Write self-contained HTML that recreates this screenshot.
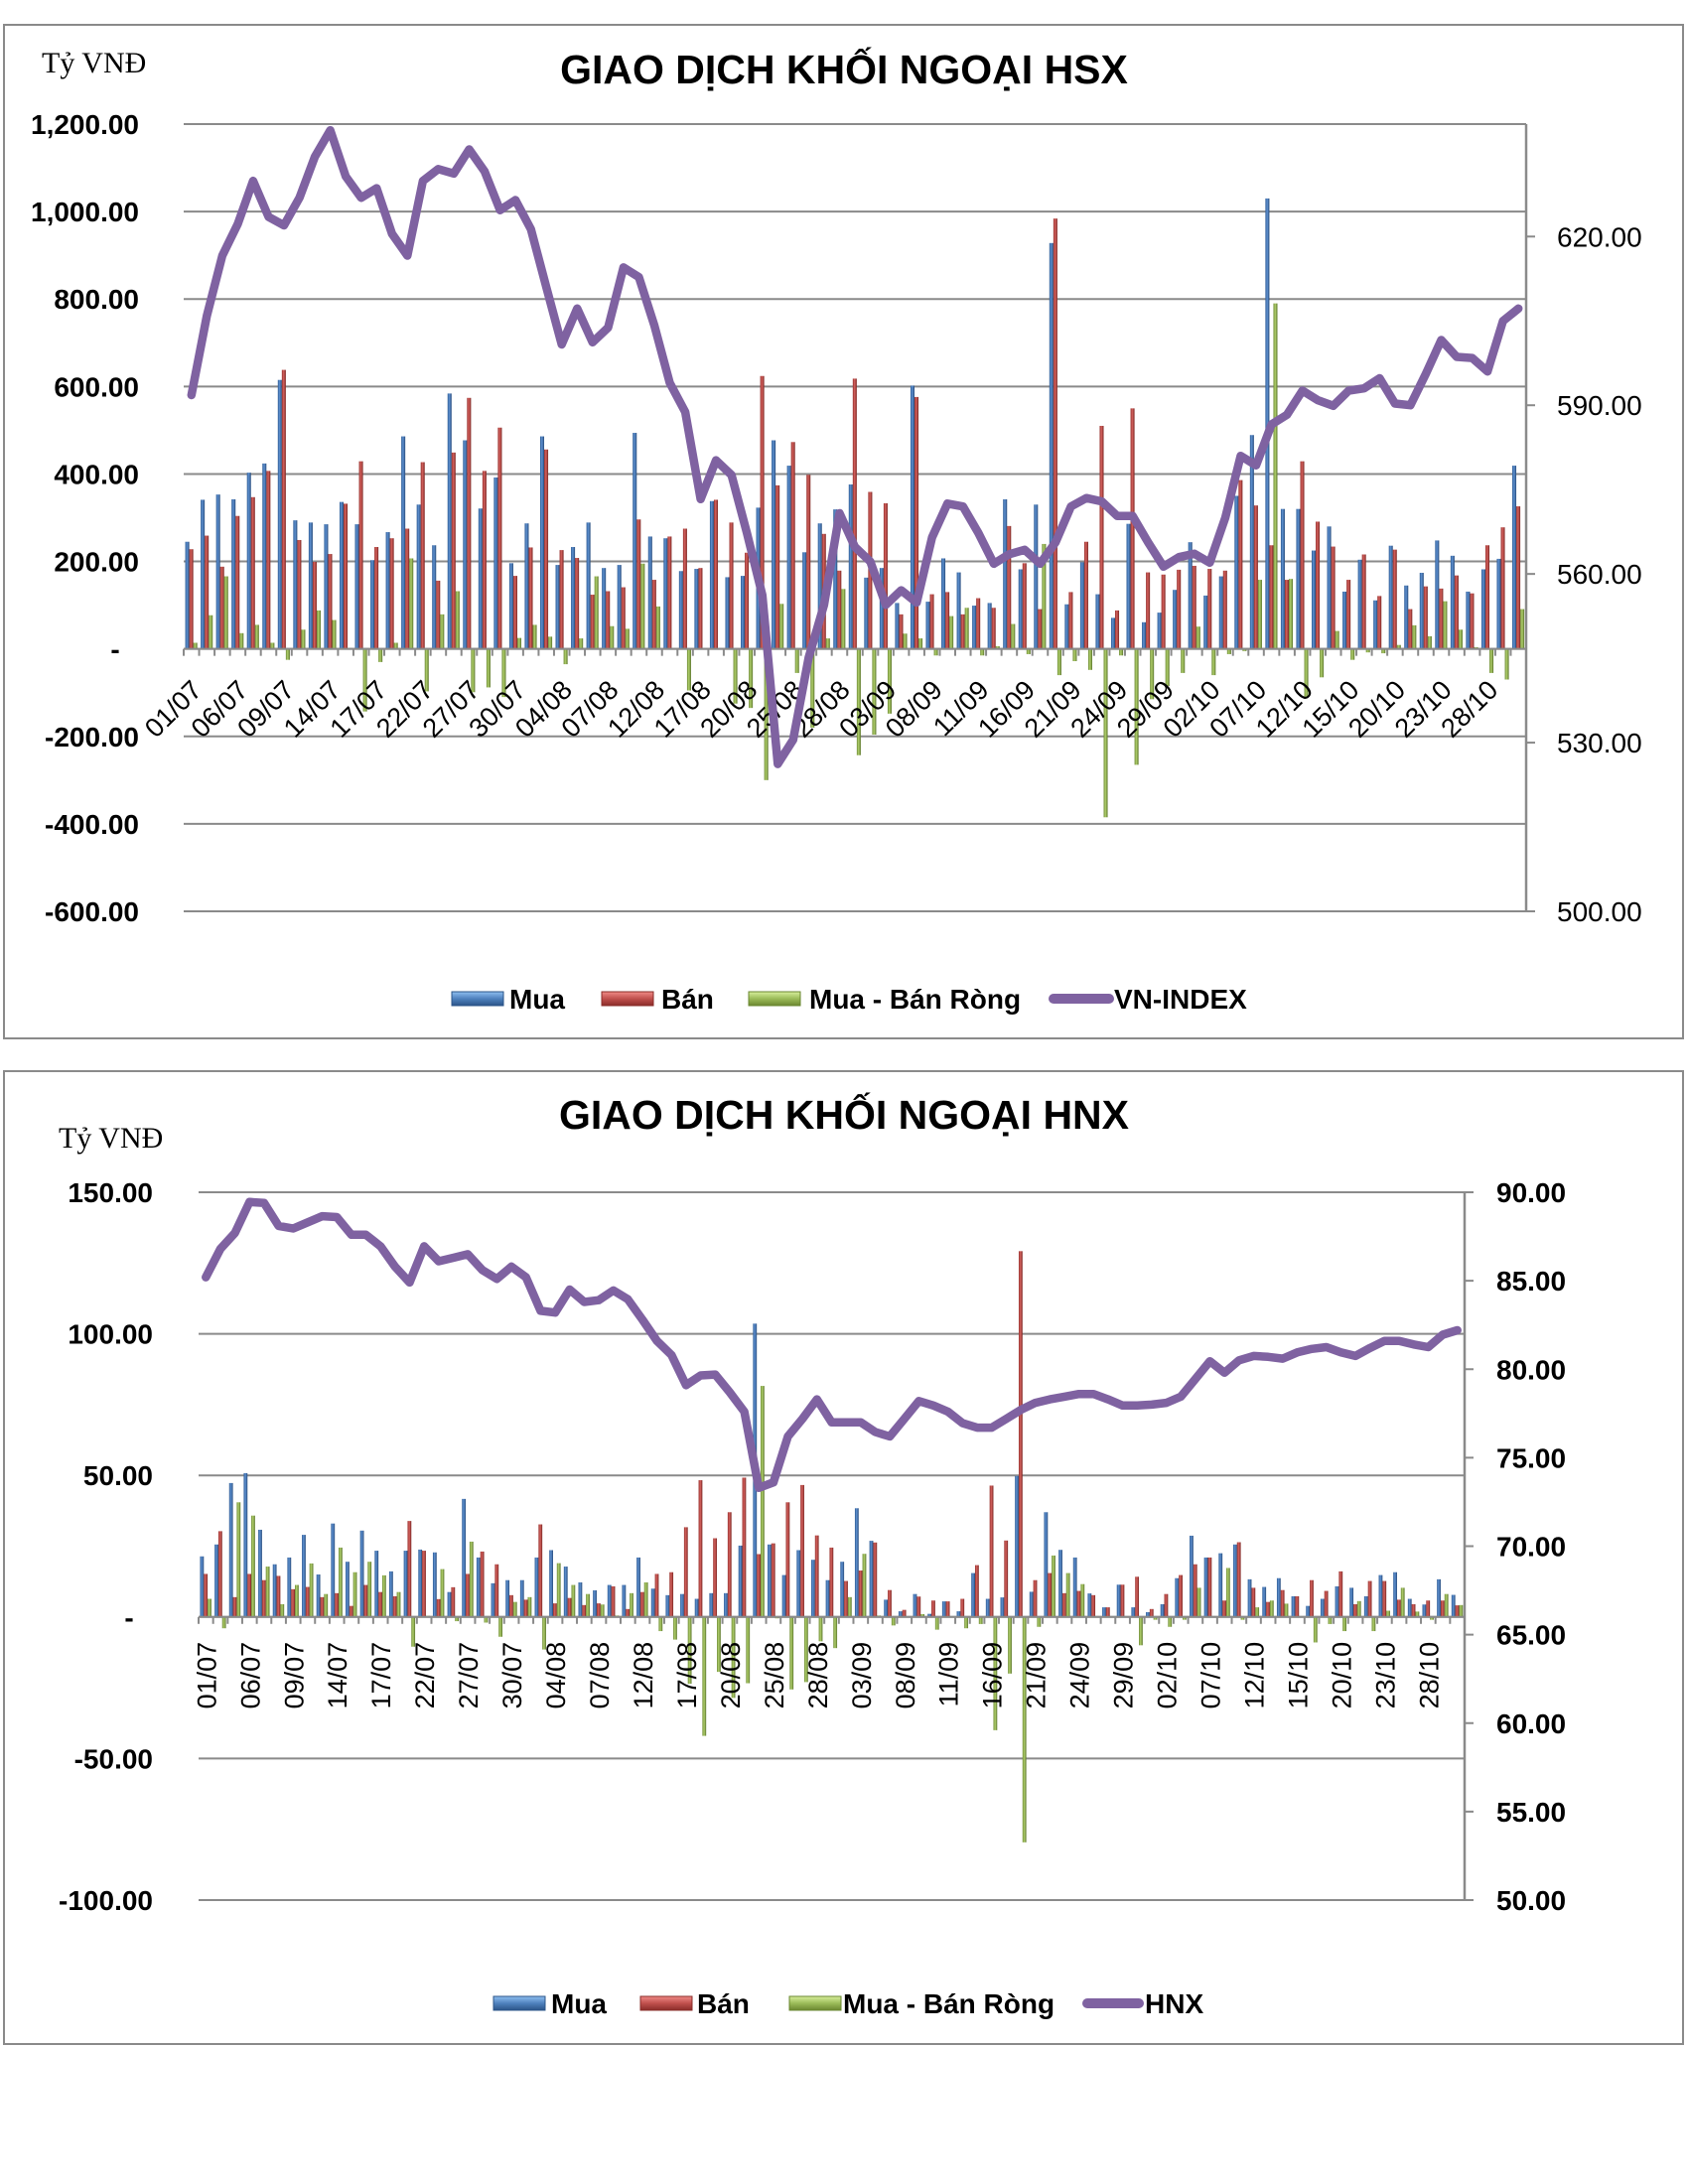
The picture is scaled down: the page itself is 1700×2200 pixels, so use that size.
<!DOCTYPE html>
<html><head><meta charset="utf-8"><title>Giao dịch khối ngoại</title>
<style>
html,body{margin:0;padding:0;background:#fff;}
svg{display:block;}
text{font-family:"Liberation Sans",Arial,sans-serif;fill:#000;}
.serif{font-family:"Liberation Serif","Times New Roman",serif;}
</style></head>
<body>
<svg id="root" width="1700" height="2200" viewBox="0 0 1700 2200" xmlns="http://www.w3.org/2000/svg">
<defs>
<linearGradient id="gBlue" x1="0" x2="1" y1="0" y2="0"><stop offset="0" stop-color="#2c5a93"/><stop offset="0.45" stop-color="#5f91d0"/><stop offset="1" stop-color="#24497a"/></linearGradient>
<linearGradient id="gRed" x1="0" x2="1" y1="0" y2="0"><stop offset="0" stop-color="#94302d"/><stop offset="0.45" stop-color="#d4625e"/><stop offset="1" stop-color="#7a2421"/></linearGradient>
<linearGradient id="gGreen" x1="0" x2="1" y1="0" y2="0"><stop offset="0" stop-color="#6c8934"/><stop offset="0.45" stop-color="#b0cf6c"/><stop offset="1" stop-color="#587328"/></linearGradient>
<linearGradient id="lBlue" x1="0" x2="0" y1="0" y2="1"><stop offset="0" stop-color="#8fc0f0"/><stop offset="0.5" stop-color="#4f81bd"/><stop offset="1" stop-color="#2b5488"/></linearGradient>
<linearGradient id="lRed" x1="0" x2="0" y1="0" y2="1"><stop offset="0" stop-color="#f08a86"/><stop offset="0.5" stop-color="#c0504d"/><stop offset="1" stop-color="#8a2c29"/></linearGradient>
<linearGradient id="lGreen" x1="0" x2="0" y1="0" y2="1"><stop offset="0" stop-color="#d8ef9c"/><stop offset="0.5" stop-color="#9bbb59"/><stop offset="1" stop-color="#6a8730"/></linearGradient>
</defs>
</svg>
<script>
// ---- shared categories ----
const categories = ["01/07","02/07","03/07","06/07","07/07","08/07","09/07","10/07","13/07","14/07","15/07","16/07","17/07","20/07","21/07","22/07","23/07","24/07","27/07","28/07","29/07","30/07","31/07",
"03/08","04/08","05/08","06/08","07/08","10/08","11/08","12/08","13/08","14/08","17/08","18/08","19/08","20/08","21/08","24/08","25/08","26/08","27/08","28/08","31/08",
"01/09","03/09","04/09","07/09","08/09","09/09","10/09","11/09","14/09","15/09","16/09","17/09","18/09","21/09","22/09","23/09","24/09","25/09","28/09","29/09","30/09",
"01/10","02/10","05/10","06/10","07/10","08/10","09/10","12/10","13/10","14/10","15/10","16/10","19/10","20/10","21/10","22/10","23/10","26/10","27/10","28/10","29/10","30/10"];

// ---- HSX chart data ----
const hsxBuy = [245,341,353,342,403,424,615,294,289,285,336,285,203,267,486,330,237,584,477,321,392,196,
287,486,192,233,289,185,192,494,257,253,178,183,338,164,167,323,477,419,221,287,319,376,
163,185,105,602,108,207,175,99,105,342,182,330,928,102,198,125,71,286,61,83,135,244,
122,166,350,489,1030,320,320,225,280,131,204,111,236,145,174,248,213,131,182,206,419];
const hsxSell = [228,259,188,304,347,407,638,249,199,217,332,429,233,253,275,427,156,449,574,407,506,167,
232,456,226,208,124,132,141,296,158,257,275,185,341,289,220,624,374,473,398,263,179,618,
359,333,79,576,125,130,79,116,94,281,196,91,984,130,245,510,88,550,175,170,181,190,
183,179,386,328,237,158,429,291,234,158,216,121,227,91,143,138,168,127,237,278,326];
const hsxNet = [14,77,166,36,55,14,-25,44,88,66,2,-143,-30,14,207,-97,79,132,-99,-88,-110,25,
55,28,-35,24,166,52,46,195,97,0,-95,0,0,-125,-135,-300,103,-55,-180,24,137,-243,
-196,-148,35,24,-15,75,94,-15,6,57,-12,240,-60,-28,-48,-385,-15,-265,-115,-85,-55,51,
-60,-12,-5,158,790,160,-110,-65,41,-25,-8,-10,9,54,29,109,44,4,-55,-70,91];
const vnIndex = [591.8,605.9,616.6,622.2,629.9,623.5,622,626.9,634.2,638.9,630.7,626.9,628.6,620.5,616.6,629.9,632,631.2,635.5,631.6,624.7,626.5,
621.3,611,600.8,607.2,601.2,603.8,614.5,612.8,604.2,594,588.8,573.3,580.2,577.6,567.3,556.2,526.2,530.5,545.1,554.5,570.8,564.8,
562.2,554.5,557.1,554.9,566.5,572.5,572,567.3,561.8,563.5,564.3,561.8,565.6,572,573.5,572.9,570.3,570.3,565.6,561.3,563,563.6,
562,570,581,579.3,586.6,588.3,592.6,590.9,589.9,592.6,593,594.8,590.3,590,595.6,601.6,598.6,598.4,596,605,607.2];
const hsxLeftTicks = [1200,1000,800,600,400,200,0,-200,-400,-600];
const hsxLeftLabels = ["1,200.00","1,000.00","800.00","600.00","400.00","200.00","-","-200.00","-400.00","-600.00"];
const hsxRightTicks = [500,530,560,590,620];
const hsxRightLabels = ["500.00","530.00","560.00","590.00","620.00"];

// ---- HNX chart data ----
const hnxBuy = [21.4,25.6,47.3,50.8,30.8,18.6,21,29,15,33,19.5,30.5,23.4,16.1,23.4,23.8,22.8,8.8,41.7,21,11.9,13,
13,21,23.6,17.8,12.2,9.4,11.3,11.3,21,10,7.7,8.1,6.4,8.4,8.4,25.2,103.6,25.6,14.8,23.6,20.2,13,
19.5,38.4,26.9,6.1,2,8.1,1.1,5.5,2,15.5,6.4,6.9,49.8,8.9,37,23.7,21,8.3,3.4,11.4,3.4,1.7,
4.5,13.7,28.7,21,22.5,25.6,13.3,10.6,13.7,7.3,3.9,6.4,10.8,10.3,7.3,14.8,15.8,6.4,4.4,13.3,7.8];
const hnxSell = [15.2,30.3,7,15.2,13,14.5,9.8,10.6,7,8.4,3.9,11.3,8.8,7.3,33.9,23.4,6.3,10.5,15.2,23.1,18.6,7.7,
6.1,32.7,4.8,6.7,4.2,4.8,10.8,2.8,8.8,15.2,15.8,31.7,48.3,27.8,37,49.2,22.2,26,40.5,46.6,28.8,24.5,
12.7,16.4,26.3,9.5,2.5,7.2,5.8,5.5,6.4,18.3,46.4,27,129.2,13,15.5,8.4,9.2,7.7,3.4,11.4,14.2,2.8,
8.1,14.8,18.6,21,5.8,26.4,10.3,5.3,9.5,7.3,13,9.2,16.1,4.5,12.7,12.7,6.1,4.5,5.8,5.8,4.1];
const hnxNet = [6.4,-4,40.5,35.8,17.8,4.5,11.3,18.9,8.1,24.5,15.8,19.5,14.7,8.8,-10.5,0.4,16.9,-1.5,26.6,-2,-7,5.3,
7,-11.5,19,11.3,8.1,4.4,0.5,8.4,12.2,-5,-8,-23.6,-42,-19.4,-28.6,-23.4,81.6,-0.5,-25.6,-23,-8.6,-11,
7,22.3,0.5,-3,0,1,-4.5,0,-4,-2.5,-40,-20,-79.6,-3.5,21.7,15.5,11.6,0.3,0,0,-10,-1,
-3.5,-1,10.3,0,17.3,-1,3.4,5.8,4.7,0,-9,-2.5,-5,5.6,-5,2.2,10.3,1.9,-1,8.1,4.2];
const hnxIndex = [85.2,86.8,87.7,89.45,89.4,88.1,87.95,88.3,88.65,88.6,87.6,87.6,86.95,85.8,84.9,86.95,86.1,86.3,86.5,85.6,85.1,85.8,
85.2,83.3,83.2,84.5,83.8,83.9,84.45,83.95,82.8,81.6,80.8,79.1,79.65,79.7,78.7,77.6,73.3,73.6,76.2,77.2,78.3,77,
77,77,76.45,76.2,77.2,78.2,77.95,77.6,76.95,76.7,76.7,77.2,77.7,78.1,78.3,78.45,78.6,78.6,78.3,77.95,77.95,78,
78.1,78.45,79.45,80.45,79.8,80.5,80.75,80.7,80.6,80.95,81.15,81.25,80.95,80.75,81.2,81.6,81.6,81.4,81.25,81.95,82.2];
const hnxLeftTicks = [150,100,50,0,-50,-100];
const hnxLeftLabels = ["150.00","100.00","50.00","-","-50.00","-100.00"];
const hnxRightTicks = [50,55,60,65,70,75,80,85,90];
const hnxRightLabels = ["50.00","55.00","60.00","65.00","70.00","75.00","80.00","85.00","90.00"];

const NS = "http://www.w3.org/2000/svg";
const root = document.getElementById("root");
function mk(tag, attrs, parent){
  const el = document.createElementNS(NS, tag);
  for (const k in attrs) el.setAttribute(k, attrs[k]);
  (parent || root).appendChild(el);
  return el;
}

function drawChart(c){
  const g = mk("g", {});
  
  
  // frame
  const fr = mk("rect", {x:c.frame[0], y:c.frame[1], width:c.frame[2]-c.frame[0], height:c.frame[3]-c.frame[1], fill:"#fff", stroke:"#8a8a8a", "stroke-width":2}, g);
  
  
  const yL = v => c.yTop + (c.lMax - v) / (c.lMax - c.lMin) * (c.yBot - c.yTop);
  const yR = v => c.yTop + (c.rMax - v) / (c.rMax - c.rMin) * (c.yBot - c.yTop);
  const n = c.cats.length;
  const cw = (c.plotR - c.plotL) / n;
  const xC = i => c.plotL + (i + 0.5) * cw;

  // title
  const t = mk("text", {x:c.titleX, y:c.titleY, "text-anchor":"middle", "font-size":41, "font-weight":"bold"}, g);
  t.textContent = c.title;
  
  
  const u = mk("text", {x:c.unitX, y:c.unitY, "font-size":30, class:"serif"}, g);
  u.textContent = "Tỷ VNĐ";
  
  

  // gridlines + left labels
  c.lTicks.forEach((v, k) => {
    const y = yL(v);
    const gl = mk("line", {x1:c.plotL, x2:c.plotR, y1:y, y2:y, stroke:"#8a8a8a", "stroke-width":2}, g);
    
    
    const lab = mk("text", {x: v === 0 ? c.zeroX : c.lLabX, y:y+10, "text-anchor": v === 0 ? "middle" : "end", "font-size":28, "font-weight":"bold"}, g);
    lab.textContent = c.lLabels[k];
    
    
  });
  // right axis
  const ra = mk("line", {x1:c.plotR, x2:c.plotR, y1:c.yTop, y2:c.yBot, stroke:"#8a8a8a", "stroke-width":2.5}, g);
  
  
  c.rTicks.forEach((v, k) => {
    const y = yR(v);
    const tk = mk("line", {x1:c.plotR, x2:c.plotR+9, y1:y, y2:y, stroke:"#8a8a8a", "stroke-width":2}, g);
    
    
    const lab = mk("text", {x:c.rLabX, y:y+10, "font-size":28, "font-weight":c.rBold ? "bold" : "normal"}, g);
    lab.textContent = c.rLabels[k];
    
    
  });

  // bars
  const y0 = yL(0);
  const bw = cw * 0.26;
  const series = [[c.buy,"url(#gBlue)","bar-buy"],[c.sell,"url(#gRed)","bar-sell"],[c.net,"url(#gGreen)","bar-net"]];
  for (let i = 0; i < n; i++) {
    series.forEach((s, k) => {
      const v = s[0][i];
      const x = c.plotL + i * cw + cw * 0.1 + k * bw;
      const y = yL(v);
      const b = mk("rect", {x:x, y:Math.min(y, y0), width:bw, height:Math.max(Math.abs(y - y0), 0.5), fill:s[1]}, g);
      
      
    });
  }
  // x axis + ticks
  const xa = mk("line", {x1:c.plotL, x2:c.plotR, y1:y0, y2:y0, stroke:"#8a8a8a", "stroke-width":2}, g);
  
  
  for (let i = 0; i <= n; i++) {
    const x = c.plotL + i * cw;
    const tk = mk("line", {x1:x, x2:x, y1:y0, y2:y0+7, stroke:"#8a8a8a", "stroke-width":2}, g);
    
    
  }
  for (let i = 0; i < n; i += 3) {
    let lab;
    if (c.rot === 45) {
      const ax = xC(i) + 12, ay = y0 + 43;
      lab = mk("text", {x:ax, y:ay, "text-anchor":"end", "font-size":27, transform:`rotate(-45 ${ax} ${ay})`}, g);
    } else {
      const ax = xC(i) + 10, ay = y0 + 25;
      lab = mk("text", {x:ax, y:ay, "text-anchor":"end", "font-size":27, transform:`rotate(-90 ${ax} ${ay})`}, g);
    }
    lab.textContent = c.cats[i];
    
    
  }
  // index line
  const pts = c.line.map((v, i) => xC(i).toFixed(1) + "," + yR(v).toFixed(1)).join(" ");
  const pl = mk("polyline", {points:pts, fill:"none", stroke:"#7f62a1", "stroke-width":8.5, "stroke-linejoin":"round", "stroke-linecap":"round"}, g);
  
  

  // legend
  const L = c.legend;
  const ly = L.y;
  const sw = [["url(#lBlue)","#2b5488","Mua","legend-buy"],["url(#lRed)","#8a2c29","Bán","legend-sell"],["url(#lGreen)","#6a8730","Mua - Bán Ròng","legend-net"]];
  sw.forEach((s, k) => {
    const lg = mk("g", {}, g);
    
    
    mk("rect", {x:L.sw[k], y:ly-7, width:52, height:14, fill:s[0], stroke:s[1], "stroke-width":1}, lg);
    const tx = mk("text", {x:L.tx[k], y:ly+10, "font-size":28, "font-weight":"bold"}, lg);
    tx.textContent = s[2];
  });
  const lg = mk("g", {}, g);
  
  
  mk("line", {x1:L.sw[3]+5, x2:L.sw[3]+L.lineW-5, y1:ly, y2:ly, stroke:"#7f62a1", "stroke-width":10, "stroke-linecap":"round"}, lg);
  const tx = mk("text", {x:L.tx[3], y:ly+10, "font-size":28, "font-weight":"bold"}, lg);
  tx.textContent = c.lineLabel;
}

drawChart({
  name:"hsx-chart", frame:[4,25,1695,1046], title:"GIAO DỊCH KHỐI NGOẠI HSX", titleX:850, titleY:84,
  unitX:42, unitY:73, plotL:185, plotR:1537, yTop:125, yBot:918,
  lMin:-600, lMax:1200, rMin:500, rMax:640, lTicks:hsxLeftTicks, lLabels:hsxLeftLabels,
  rTicks:hsxRightTicks, rLabels:hsxRightLabels, lLabX:140, zeroX:116, rLabX:1568, rBold:false,
  cats:categories, buy:hsxBuy, sell:hsxSell, net:hsxNet, line:vnIndex, lineName:"vn-index-line", lineLabel:"VN-INDEX",
  rot:45, legend:{y:1006, sw:[455,606,754,1056], tx:[513,666,815,1122], lineW:66}
});
drawChart({
  name:"hnx-chart", frame:[4,1079,1695,2059], title:"GIAO DỊCH KHỐI NGOẠI HNX", titleX:850, titleY:1137,
  unitX:59, unitY:1156, plotL:200, plotR:1475, yTop:1201, yBot:1914,
  lMin:-100, lMax:150, rMin:50, rMax:90, lTicks:hnxLeftTicks, lLabels:hnxLeftLabels,
  rTicks:hnxRightTicks, rLabels:hnxRightLabels, lLabX:154, zeroX:130, rLabX:1507, rBold:true,
  cats:categories, buy:hnxBuy, sell:hnxSell, net:hnxNet, line:hnxIndex, lineName:"hnx-index-line", lineLabel:"HNX",
  rot:90, legend:{y:2018, sw:[497,645,795,1090], tx:[555,702,849,1153], lineW:62}
});
</script>
</body></html>
